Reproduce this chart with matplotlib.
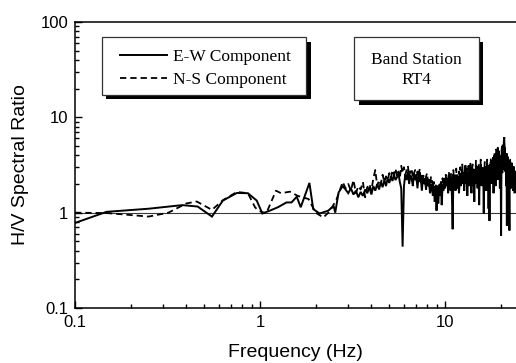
import numpy as np
import matplotlib
matplotlib.use("Agg")
import matplotlib.pyplot as plt
from matplotlib.patches import Rectangle
from matplotlib.ticker import LogLocator, FuncFormatter, NullFormatter

# ---------------- data ----------------
ew_low_f = [0.1, 0.148, 0.25, 0.38, 0.46, 0.55, 0.63, 0.75, 0.86, 0.96, 1.03, 1.13,
            1.25, 1.39, 1.48, 1.58, 1.66, 1.85, 1.94, 2.1, 2.34, 2.5, 2.55, 2.66]
ew_low_v = [0.78, 1.02, 1.1, 1.2, 1.16, 0.91, 1.34, 1.61, 1.6, 1.34, 0.98, 1.05,
            1.14, 1.28, 1.28, 1.47, 1.14, 2.05, 1.09, 0.98, 1.05, 1.18, 1.0, 1.63]

ns_low_f = [0.1, 0.15, 0.25, 0.32, 0.4, 0.455, 0.55, 0.63, 0.75, 0.86, 0.94, 0.98,
            1.08, 1.22, 1.3, 1.45, 1.6, 1.83, 2.0, 2.2, 2.4, 2.6]
ns_low_v = [1.0, 0.99, 0.91, 1.0, 1.25, 1.31, 1.07, 1.35, 1.65, 1.6, 1.14, 1.05,
            0.98, 1.7, 1.6, 1.66, 1.5, 1.39, 1.0, 0.89, 1.05, 1.4]

# high-frequency part: spectral bins every 0.1 Hz starting at 2.8 Hz
hi_start = 2.8
hi_step = 0.1
ew_hi_v = [
    1.9, 1.75,
    1.6, 1.8, 1.55, 1.7, 1.45, 1.65, 1.5, 1.75, 1.6, 1.85,
    1.55, 1.9, 1.7, 2.0, 1.75, 2.1, 1.85, 2.2, 1.9, 2.3,
    2.05, 2.4, 2.15, 2.5, 2.2, 2.35, 2.6, 2.1, 1.8, 0.44,
    1.9, 2.5, 2.2, 2.7, 2.0, 2.45, 2.3, 1.9, 2.6, 2.2,
    2.4, 1.8, 2.5, 2.1, 2.3, 1.7, 2.4, 2.0, 2.2, 1.75,
    2.3, 1.9, 2.1, 1.6, 2.0, 1.8, 1.5, 1.9, 1.3, 1.7,
    1.05, 1.6, 1.25, 1.8, 1.5, 2.0, 1.2, 1.9, 1.7, 2.1,
    1.8, 2.3, 1.9, 2.2, 1.6, 2.4, 2.0, 1.7, 2.3, 1.5,
    0.67, 2.5, 1.9, 2.2, 1.7, 2.4, 2.0, 1.8, 2.3, 1.6,
    2.1, 2.6, 1.9, 2.3, 2.8, 2.0, 2.5, 1.7, 2.2, 2.9,
    2.0, 2.6, 1.5, 2.3, 2.7, 1.9, 2.4, 3.0, 2.1, 1.6,
    2.5, 2.9, 1.9, 2.4, 1.3, 2.6, 2.2, 3.1, 2.0, 2.7,
    1.8, 2.4, 2.9, 1.2, 2.5, 2.1, 3.2, 2.3, 1.9, 2.8,
    2.2, 2.6, 0.98, 2.4, 3.0, 2.0, 2.7, 1.7, 2.5, 3.3,
    2.1, 2.8, 1.1, 2.5, 0.82, 2.9, 2.3, 3.4, 2.0, 2.6,
    3.0, 2.2, 3.6, 1.6, 2.8, 3.9, 2.4, 3.2, 1.9, 4.2,
    2.7, 3.5, 2.2, 4.5, 3.0, 2.5, 4.0, 3.3, 1.8, 3.8,
    2.9, 0.57, 3.6, 4.6, 2.6, 5.0, 3.4, 2.8, 5.5, 6.2,
    3.9, 4.8, 2.7, 3.5, 1.9, 4.2, 0.73, 3.1, 2.5, 3.8,
    2.3, 3.2, 1.6, 0.65, 2.8, 3.4, 2.1, 2.9, 1.8, 2.6,
    3.1, 2.2, 2.7, 1.7, 2.5, 3.0, 2.0, 2.6, 1.6, 2.4,
    2.1, 1.85, 2.45,
]
ns_hi_v = [
    2.1, 1.8,
    2.0, 1.7, 2.2, 1.6, 1.9, 1.75, 2.1, 1.45, 1.85, 2.0,
    1.7, 2.3, 2.8, 1.9, 2.2, 2.0, 2.5, 2.1, 2.4, 2.2,
    2.6, 2.3, 2.8, 2.5, 2.9, 2.4, 2.7, 2.3, 3.1, 2.6,
    3.0, 2.5, 2.8, 3.1, 2.4, 2.7, 2.9, 2.3, 2.6, 2.8,
    2.2, 2.7, 2.4, 2.9, 2.1, 2.6, 2.3, 2.5, 2.0, 2.4,
    2.6, 2.1, 2.3, 1.9, 2.4, 2.2, 1.8, 2.1, 1.7, 2.0,
    1.6, 1.9, 1.5, 2.0, 1.8, 2.2, 1.7, 2.3, 1.9, 2.4,
    2.1, 2.5, 2.0, 2.4, 2.2, 2.7, 1.9, 2.3, 2.6, 2.0,
    2.4, 2.8, 2.1, 2.5, 2.3, 2.9, 2.0, 2.6, 2.2, 2.7,
    2.5, 3.0, 2.2, 2.7, 3.2, 2.4, 2.8, 2.1, 2.6, 3.3,
    2.3, 2.9, 2.0, 2.7, 3.1, 2.4, 2.8, 3.4, 2.5, 2.1,
    2.8, 3.2, 2.3, 2.7, 1.9, 2.9, 2.5, 3.5, 2.4, 3.0,
    2.2, 2.7, 3.3, 2.0, 2.8, 2.4, 3.6, 2.6, 2.2, 3.1,
    2.5, 2.9, 2.1, 2.7, 3.4, 2.3, 3.0, 2.2, 2.8, 3.6,
    2.4, 3.1, 2.0, 2.8, 2.3, 3.2, 2.6, 3.8, 2.4, 3.0,
    3.4, 2.6, 4.0, 2.2, 3.1, 4.3, 2.8, 3.6, 2.5, 4.6,
    3.0, 3.9, 2.6, 4.8, 3.3, 2.9, 4.4, 3.6, 2.4, 4.1,
    3.2, 2.5, 3.9, 4.9, 3.0, 5.2, 3.7, 3.1, 4.6, 5.4,
    4.0, 4.5, 3.0, 3.8, 2.6, 4.3, 2.4, 3.4, 2.8, 3.9,
    2.7, 3.5, 2.2, 2.9, 3.1, 3.6, 2.5, 3.2, 2.3, 2.9,
    3.3, 2.5, 3.0, 2.2, 2.8, 3.2, 2.4, 2.9, 2.1, 2.7,
    2.4, 2.2, 2.6,
]

ew_f = np.concatenate([ew_low_f, hi_start + hi_step * np.arange(len(ew_hi_v))])
ew_v = np.concatenate([ew_low_v, ew_hi_v])
ns_f = np.concatenate([ns_low_f, hi_start + hi_step * np.arange(len(ns_hi_v))])
ns_v = np.concatenate([ns_low_v, ns_hi_v])

labels = ["E-W Component", "N-S Component"]
station_text = "Band Station\nRT4"

# ---------------- figure ----------------
W, H = 516, 363
fig = plt.figure(figsize=(W / 100, H / 100), dpi=100)
ax = fig.add_axes([75 / W, 1 - 308 / H, 441 / W, 286 / H])

ax.axhline(1, color="#3a3a3a", lw=0.8, zorder=1)
ln1, = ax.plot(ew_f, ew_v, color="black", lw=1.4, solid_joinstyle="miter", zorder=3)
ln2, = ax.plot(ns_f, ns_v, color="black", lw=1.3, linestyle=(0, (3.5, 2.2)), zorder=2)

ax.set_xscale("log")
ax.set_yscale("log")
ax.set_xlim(0.1, 24.2)
ax.set_ylim(0.1, 100)

fmt = FuncFormatter(lambda v, p: "%g" % v)
for axis in (ax.xaxis, ax.yaxis):
    axis.set_major_locator(LogLocator(base=10, numticks=10))
    axis.set_minor_locator(LogLocator(base=10, subs=np.arange(2, 10), numticks=100))
    axis.set_major_formatter(fmt)
    axis.set_minor_formatter(NullFormatter())

ax.tick_params(which="both", direction="in", top=False, right=False,
               labelsize=12, width=1.0, colors="black")
ax.tick_params(which="major", length=5)
ax.tick_params(which="minor", length=3)
ax.tick_params(axis="x", which="major", pad=5)
ax.tick_params(axis="y", which="major", pad=5)
for lab in ax.get_xticklabels() + ax.get_yticklabels():
    lab.set_family("Liberation Sans")

ax.spines["right"].set_visible(False)
for s in ("left", "bottom", "top"):
    ax.spines[s].set_linewidth(1.1)

ax.set_xlabel("Frequency (Hz)", fontsize=14, family="Liberation Sans", labelpad=10)
ax.set_ylabel("H/V Spectral Ratio", fontsize=14, family="Liberation Sans", labelpad=8)

# boxes with shadows (figure pixel geometry)
def box(x0, y0, x1, y1, off=4.5):
    sh = Rectangle(((x0 + off) / W, 1 - (y1 + off) / H), (x1 - x0) / W, (y1 - y0) / H,
                   transform=fig.transFigure, facecolor="black", edgecolor="none", zorder=5)
    bx = Rectangle((x0 / W, 1 - y1 / H), (x1 - x0) / W, (y1 - y0) / H,
                   transform=fig.transFigure, facecolor="white", edgecolor="#333333",
                   lw=0.9, zorder=6)
    fig.add_artist(sh)
    fig.add_artist(bx)

box(101.5, 37.5, 306, 94.5)
box(354, 37.5, 478.5, 100)

leg = fig.legend([ln1, ln2], labels, loc="upper left",
                 bbox_to_anchor=(117 / W, 1 - 45 / H), frameon=False,
                 prop={"family": "Liberation Serif", "size": 12.5},
                 handlelength=2.7, handletextpad=0.3, labelspacing=0.4,
                 borderpad=0.2, borderaxespad=0)
leg.set_zorder(7)

fig.text(416 / W, 1 - 70 / H, station_text, ha="center", va="center",
         family="Liberation Serif", fontsize=12.5, linespacing=1.4, zorder=7)

fig.savefig("out.png", dpi=100)
